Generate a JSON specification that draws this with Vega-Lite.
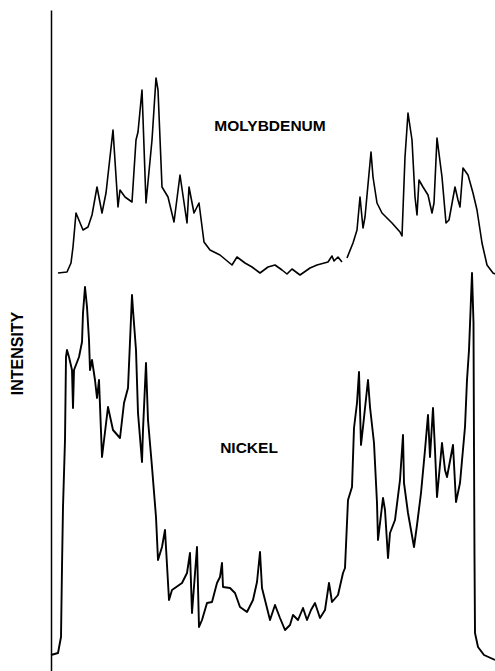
{
  "$schema": "https://vega.github.io/schema/vega-lite/v6.json",
  "autosize": "none",
  "width": 444,
  "height": 661,
  "padding": {"left": 51, "top": 10, "right": 0, "bottom": 0},
  "background": "white",
  "config": {
    "view": {"stroke": null},
    "axis": {"grid": false, "ticks": false, "labels": false}
  },
  "datasets": {
    "traces": [
      {"trace": "Mo", "seg": "a", "pos": 7, "int": 398},
      {"trace": "Mo", "seg": "a", "pos": 16, "int": 399},
      {"trace": "Mo", "seg": "a", "pos": 20, "int": 408},
      {"trace": "Mo", "seg": "a", "pos": 22, "int": 424},
      {"trace": "Mo", "seg": "a", "pos": 25, "int": 458},
      {"trace": "Mo", "seg": "a", "pos": 32, "int": 441},
      {"trace": "Mo", "seg": "a", "pos": 37, "int": 444},
      {"trace": "Mo", "seg": "a", "pos": 41, "int": 456},
      {"trace": "Mo", "seg": "a", "pos": 46, "int": 484},
      {"trace": "Mo", "seg": "a", "pos": 51, "int": 458},
      {"trace": "Mo", "seg": "a", "pos": 55, "int": 478},
      {"trace": "Mo", "seg": "a", "pos": 62, "int": 541},
      {"trace": "Mo", "seg": "a", "pos": 67, "int": 464},
      {"trace": "Mo", "seg": "a", "pos": 69, "int": 481},
      {"trace": "Mo", "seg": "a", "pos": 74, "int": 474},
      {"trace": "Mo", "seg": "a", "pos": 81, "int": 469},
      {"trace": "Mo", "seg": "a", "pos": 85, "int": 531},
      {"trace": "Mo", "seg": "a", "pos": 87, "int": 539},
      {"trace": "Mo", "seg": "a", "pos": 91, "int": 581},
      {"trace": "Mo", "seg": "a", "pos": 95, "int": 468},
      {"trace": "Mo", "seg": "a", "pos": 101, "int": 531},
      {"trace": "Mo", "seg": "a", "pos": 105, "int": 593},
      {"trace": "Mo", "seg": "a", "pos": 107, "int": 581},
      {"trace": "Mo", "seg": "a", "pos": 111, "int": 484},
      {"trace": "Mo", "seg": "a", "pos": 117, "int": 474},
      {"trace": "Mo", "seg": "a", "pos": 123, "int": 449},
      {"trace": "Mo", "seg": "a", "pos": 129, "int": 496},
      {"trace": "Mo", "seg": "a", "pos": 136, "int": 448},
      {"trace": "Mo", "seg": "a", "pos": 138, "int": 484},
      {"trace": "Mo", "seg": "a", "pos": 143, "int": 458},
      {"trace": "Mo", "seg": "a", "pos": 148, "int": 468},
      {"trace": "Mo", "seg": "a", "pos": 153, "int": 429},
      {"trace": "Mo", "seg": "a", "pos": 159, "int": 421},
      {"trace": "Mo", "seg": "a", "pos": 169, "int": 416},
      {"trace": "Mo", "seg": "a", "pos": 181, "int": 406},
      {"trace": "Mo", "seg": "a", "pos": 186, "int": 414},
      {"trace": "Mo", "seg": "a", "pos": 194, "int": 408},
      {"trace": "Mo", "seg": "a", "pos": 201, "int": 404},
      {"trace": "Mo", "seg": "a", "pos": 209, "int": 398},
      {"trace": "Mo", "seg": "a", "pos": 217, "int": 404},
      {"trace": "Mo", "seg": "a", "pos": 224, "int": 406},
      {"trace": "Mo", "seg": "a", "pos": 231, "int": 401},
      {"trace": "Mo", "seg": "a", "pos": 236, "int": 397},
      {"trace": "Mo", "seg": "a", "pos": 241, "int": 402},
      {"trace": "Mo", "seg": "a", "pos": 249, "int": 396},
      {"trace": "Mo", "seg": "a", "pos": 259, "int": 403},
      {"trace": "Mo", "seg": "a", "pos": 266, "int": 406},
      {"trace": "Mo", "seg": "a", "pos": 277, "int": 409},
      {"trace": "Mo", "seg": "a", "pos": 281, "int": 415},
      {"trace": "Mo", "seg": "a", "pos": 283, "int": 410},
      {"trace": "Mo", "seg": "a", "pos": 287, "int": 414},
      {"trace": "Mo", "seg": "a", "pos": 291, "int": 409},
      {"trace": "Mo", "seg": "b", "pos": 296, "int": 413},
      {"trace": "Mo", "seg": "b", "pos": 302, "int": 428},
      {"trace": "Mo", "seg": "b", "pos": 306, "int": 441},
      {"trace": "Mo", "seg": "b", "pos": 309, "int": 474},
      {"trace": "Mo", "seg": "b", "pos": 312, "int": 443},
      {"trace": "Mo", "seg": "b", "pos": 314, "int": 454},
      {"trace": "Mo", "seg": "b", "pos": 320, "int": 519},
      {"trace": "Mo", "seg": "b", "pos": 322, "int": 494},
      {"trace": "Mo", "seg": "b", "pos": 326, "int": 468},
      {"trace": "Mo", "seg": "b", "pos": 331, "int": 458},
      {"trace": "Mo", "seg": "b", "pos": 341, "int": 448},
      {"trace": "Mo", "seg": "b", "pos": 349, "int": 439},
      {"trace": "Mo", "seg": "b", "pos": 351, "int": 435},
      {"trace": "Mo", "seg": "b", "pos": 354, "int": 514},
      {"trace": "Mo", "seg": "b", "pos": 357, "int": 558},
      {"trace": "Mo", "seg": "b", "pos": 361, "int": 531},
      {"trace": "Mo", "seg": "b", "pos": 364, "int": 474},
      {"trace": "Mo", "seg": "b", "pos": 366, "int": 456},
      {"trace": "Mo", "seg": "b", "pos": 368, "int": 491},
      {"trace": "Mo", "seg": "b", "pos": 372, "int": 484},
      {"trace": "Mo", "seg": "b", "pos": 377, "int": 476},
      {"trace": "Mo", "seg": "b", "pos": 381, "int": 458},
      {"trace": "Mo", "seg": "b", "pos": 383, "int": 468},
      {"trace": "Mo", "seg": "b", "pos": 386, "int": 533},
      {"trace": "Mo", "seg": "b", "pos": 391, "int": 494},
      {"trace": "Mo", "seg": "b", "pos": 395, "int": 448},
      {"trace": "Mo", "seg": "b", "pos": 398, "int": 451},
      {"trace": "Mo", "seg": "b", "pos": 404, "int": 484},
      {"trace": "Mo", "seg": "b", "pos": 407, "int": 471},
      {"trace": "Mo", "seg": "b", "pos": 409, "int": 464},
      {"trace": "Mo", "seg": "b", "pos": 412, "int": 503},
      {"trace": "Mo", "seg": "b", "pos": 417, "int": 496},
      {"trace": "Mo", "seg": "b", "pos": 422, "int": 478},
      {"trace": "Mo", "seg": "b", "pos": 426, "int": 461},
      {"trace": "Mo", "seg": "b", "pos": 431, "int": 428},
      {"trace": "Mo", "seg": "b", "pos": 436, "int": 406},
      {"trace": "Mo", "seg": "b", "pos": 442, "int": 398},
      {"trace": "Mo", "seg": "b", "pos": 444, "int": 397},

      {"trace": "Ni", "seg": "a", "pos": 0, "int": 16},
      {"trace": "Ni", "seg": "a", "pos": 7, "int": 18},
      {"trace": "Ni", "seg": "a", "pos": 10, "int": 34},
      {"trace": "Ni", "seg": "a", "pos": 11, "int": 104},
      {"trace": "Ni", "seg": "a", "pos": 12, "int": 164},
      {"trace": "Ni", "seg": "a", "pos": 14, "int": 231},
      {"trace": "Ni", "seg": "a", "pos": 15, "int": 314},
      {"trace": "Ni", "seg": "a", "pos": 16, "int": 321},
      {"trace": "Ni", "seg": "a", "pos": 18, "int": 314},
      {"trace": "Ni", "seg": "a", "pos": 21, "int": 301},
      {"trace": "Ni", "seg": "a", "pos": 22, "int": 263},
      {"trace": "Ni", "seg": "a", "pos": 23, "int": 301},
      {"trace": "Ni", "seg": "a", "pos": 28, "int": 314},
      {"trace": "Ni", "seg": "a", "pos": 31, "int": 329},
      {"trace": "Ni", "seg": "a", "pos": 32, "int": 358},
      {"trace": "Ni", "seg": "a", "pos": 34, "int": 384},
      {"trace": "Ni", "seg": "a", "pos": 36, "int": 364},
      {"trace": "Ni", "seg": "a", "pos": 38, "int": 331},
      {"trace": "Ni", "seg": "a", "pos": 39, "int": 301},
      {"trace": "Ni", "seg": "a", "pos": 41, "int": 311},
      {"trace": "Ni", "seg": "a", "pos": 44, "int": 291},
      {"trace": "Ni", "seg": "a", "pos": 46, "int": 273},
      {"trace": "Ni", "seg": "a", "pos": 48, "int": 291},
      {"trace": "Ni", "seg": "a", "pos": 51, "int": 214},
      {"trace": "Ni", "seg": "a", "pos": 57, "int": 264},
      {"trace": "Ni", "seg": "a", "pos": 62, "int": 241},
      {"trace": "Ni", "seg": "a", "pos": 69, "int": 233},
      {"trace": "Ni", "seg": "a", "pos": 73, "int": 268},
      {"trace": "Ni", "seg": "a", "pos": 77, "int": 283},
      {"trace": "Ni", "seg": "a", "pos": 81, "int": 376},
      {"trace": "Ni", "seg": "a", "pos": 82, "int": 361},
      {"trace": "Ni", "seg": "a", "pos": 85, "int": 321},
      {"trace": "Ni", "seg": "a", "pos": 87, "int": 258},
      {"trace": "Ni", "seg": "a", "pos": 91, "int": 209},
      {"trace": "Ni", "seg": "a", "pos": 92, "int": 241},
      {"trace": "Ni", "seg": "a", "pos": 95, "int": 308},
      {"trace": "Ni", "seg": "a", "pos": 97, "int": 251},
      {"trace": "Ni", "seg": "a", "pos": 101, "int": 204},
      {"trace": "Ni", "seg": "a", "pos": 105, "int": 154},
      {"trace": "Ni", "seg": "a", "pos": 107, "int": 111},
      {"trace": "Ni", "seg": "a", "pos": 111, "int": 124},
      {"trace": "Ni", "seg": "a", "pos": 114, "int": 141},
      {"trace": "Ni", "seg": "a", "pos": 118, "int": 71},
      {"trace": "Ni", "seg": "a", "pos": 121, "int": 81},
      {"trace": "Ni", "seg": "a", "pos": 131, "int": 88},
      {"trace": "Ni", "seg": "a", "pos": 136, "int": 98},
      {"trace": "Ni", "seg": "a", "pos": 139, "int": 118},
      {"trace": "Ni", "seg": "a", "pos": 141, "int": 58},
      {"trace": "Ni", "seg": "a", "pos": 146, "int": 124},
      {"trace": "Ni", "seg": "a", "pos": 148, "int": 44},
      {"trace": "Ni", "seg": "a", "pos": 151, "int": 51},
      {"trace": "Ni", "seg": "a", "pos": 156, "int": 68},
      {"trace": "Ni", "seg": "a", "pos": 161, "int": 69},
      {"trace": "Ni", "seg": "a", "pos": 166, "int": 88},
      {"trace": "Ni", "seg": "a", "pos": 169, "int": 94},
      {"trace": "Ni", "seg": "a", "pos": 171, "int": 108},
      {"trace": "Ni", "seg": "a", "pos": 172, "int": 84},
      {"trace": "Ni", "seg": "a", "pos": 179, "int": 83},
      {"trace": "Ni", "seg": "a", "pos": 184, "int": 78},
      {"trace": "Ni", "seg": "a", "pos": 189, "int": 64},
      {"trace": "Ni", "seg": "a", "pos": 196, "int": 59},
      {"trace": "Ni", "seg": "a", "pos": 202, "int": 71},
      {"trace": "Ni", "seg": "a", "pos": 206, "int": 89},
      {"trace": "Ni", "seg": "a", "pos": 209, "int": 119},
      {"trace": "Ni", "seg": "a", "pos": 211, "int": 83},
      {"trace": "Ni", "seg": "a", "pos": 214, "int": 71},
      {"trace": "Ni", "seg": "a", "pos": 219, "int": 51},
      {"trace": "Ni", "seg": "a", "pos": 224, "int": 66},
      {"trace": "Ni", "seg": "a", "pos": 229, "int": 53},
      {"trace": "Ni", "seg": "a", "pos": 234, "int": 41},
      {"trace": "Ni", "seg": "a", "pos": 239, "int": 46},
      {"trace": "Ni", "seg": "a", "pos": 242, "int": 56},
      {"trace": "Ni", "seg": "a", "pos": 247, "int": 51},
      {"trace": "Ni", "seg": "a", "pos": 252, "int": 63},
      {"trace": "Ni", "seg": "a", "pos": 256, "int": 51},
      {"trace": "Ni", "seg": "a", "pos": 260, "int": 61},
      {"trace": "Ni", "seg": "a", "pos": 264, "int": 68},
      {"trace": "Ni", "seg": "a", "pos": 269, "int": 53},
      {"trace": "Ni", "seg": "a", "pos": 274, "int": 61},
      {"trace": "Ni", "seg": "a", "pos": 278, "int": 88},
      {"trace": "Ni", "seg": "a", "pos": 281, "int": 69},
      {"trace": "Ni", "seg": "a", "pos": 287, "int": 76},
      {"trace": "Ni", "seg": "a", "pos": 292, "int": 98},
      {"trace": "Ni", "seg": "a", "pos": 294, "int": 103},
      {"trace": "Ni", "seg": "a", "pos": 297, "int": 171},
      {"trace": "Ni", "seg": "a", "pos": 301, "int": 184},
      {"trace": "Ni", "seg": "a", "pos": 303, "int": 243},
      {"trace": "Ni", "seg": "a", "pos": 306, "int": 268},
      {"trace": "Ni", "seg": "a", "pos": 308, "int": 299},
      {"trace": "Ni", "seg": "a", "pos": 310, "int": 226},
      {"trace": "Ni", "seg": "a", "pos": 312, "int": 244},
      {"trace": "Ni", "seg": "a", "pos": 317, "int": 291},
      {"trace": "Ni", "seg": "a", "pos": 319, "int": 264},
      {"trace": "Ni", "seg": "a", "pos": 323, "int": 228},
      {"trace": "Ni", "seg": "a", "pos": 326, "int": 168},
      {"trace": "Ni", "seg": "a", "pos": 327, "int": 131},
      {"trace": "Ni", "seg": "a", "pos": 332, "int": 173},
      {"trace": "Ni", "seg": "a", "pos": 334, "int": 161},
      {"trace": "Ni", "seg": "a", "pos": 337, "int": 113},
      {"trace": "Ni", "seg": "a", "pos": 339, "int": 138},
      {"trace": "Ni", "seg": "a", "pos": 344, "int": 151},
      {"trace": "Ni", "seg": "a", "pos": 349, "int": 191},
      {"trace": "Ni", "seg": "a", "pos": 352, "int": 236},
      {"trace": "Ni", "seg": "a", "pos": 353, "int": 188},
      {"trace": "Ni", "seg": "a", "pos": 357, "int": 158},
      {"trace": "Ni", "seg": "a", "pos": 363, "int": 124},
      {"trace": "Ni", "seg": "a", "pos": 366, "int": 146},
      {"trace": "Ni", "seg": "a", "pos": 370, "int": 178},
      {"trace": "Ni", "seg": "a", "pos": 374, "int": 221},
      {"trace": "Ni", "seg": "a", "pos": 377, "int": 256},
      {"trace": "Ni", "seg": "a", "pos": 379, "int": 214},
      {"trace": "Ni", "seg": "a", "pos": 382, "int": 263},
      {"trace": "Ni", "seg": "a", "pos": 384, "int": 221},
      {"trace": "Ni", "seg": "a", "pos": 386, "int": 174},
      {"trace": "Ni", "seg": "a", "pos": 391, "int": 228},
      {"trace": "Ni", "seg": "a", "pos": 394, "int": 201},
      {"trace": "Ni", "seg": "a", "pos": 396, "int": 194},
      {"trace": "Ni", "seg": "a", "pos": 402, "int": 226},
      {"trace": "Ni", "seg": "a", "pos": 405, "int": 169},
      {"trace": "Ni", "seg": "a", "pos": 409, "int": 188},
      {"trace": "Ni", "seg": "a", "pos": 414, "int": 244},
      {"trace": "Ni", "seg": "a", "pos": 416, "int": 291},
      {"trace": "Ni", "seg": "a", "pos": 418, "int": 321},
      {"trace": "Ni", "seg": "a", "pos": 421, "int": 398},
      {"trace": "Ni", "seg": "a", "pos": 422.5, "int": 348},
      {"trace": "Ni", "seg": "a", "pos": 423, "int": 221},
      {"trace": "Ni", "seg": "a", "pos": 423.5, "int": 114},
      {"trace": "Ni", "seg": "a", "pos": 424, "int": 38},
      {"trace": "Ni", "seg": "a", "pos": 427, "int": 24},
      {"trace": "Ni", "seg": "a", "pos": 433, "int": 16},
      {"trace": "Ni", "seg": "a", "pos": 444, "int": 11}
    ],
    "labels": [
      {"label": "MOLYBDENUM", "pos": 219, "int": 545},
      {"label": "NICKEL", "pos": 198, "int": 223}
    ]
  },
  "encoding": {
    "x": {
      "field": "pos",
      "type": "quantitative",
      "scale": {"domain": [0, 444], "nice": false, "zero": false},
      "axis": null
    },
    "y": {
      "field": "int",
      "type": "quantitative",
      "scale": {"domain": [0, 661], "nice": false},
      "axis": {
        "title": "INTENSITY",
        "domain": true,
        "domainColor": "#000000",
        "domainWidth": 1.5,
        "titleFont": "Liberation Sans",
        "titleFontSize": 16,
        "titleFontWeight": "bold",
        "titleColor": "#000000",
        "titleAngle": 270,
        "titleAlign": "center",
        "titleBaseline": "middle",
        "titleX": -34,
        "titleY": 343
      }
    }
  },
  "layer": [
    {
      "data": {"name": "traces"},
      "transform": [{"filter": "datum.trace === 'Mo'"}],
      "mark": {"type": "line", "color": "#000000", "strokeWidth": 1.6, "strokeJoin": "round"},
      "encoding": {"detail": {"field": "seg"}}
    },
    {
      "data": {"name": "traces"},
      "transform": [{"filter": "datum.trace === 'Ni'"}],
      "mark": {"type": "line", "color": "#000000", "strokeWidth": 1.9, "strokeJoin": "round"},
      "encoding": {"detail": {"field": "seg"}}
    },
    {
      "data": {"name": "labels"},
      "mark": {
        "type": "text",
        "font": "Liberation Sans",
        "fontSize": 15.5,
        "fontWeight": "bold",
        "color": "#000000",
        "align": "center",
        "baseline": "middle"
      },
      "encoding": {"text": {"field": "label"}}
    }
  ]
}
